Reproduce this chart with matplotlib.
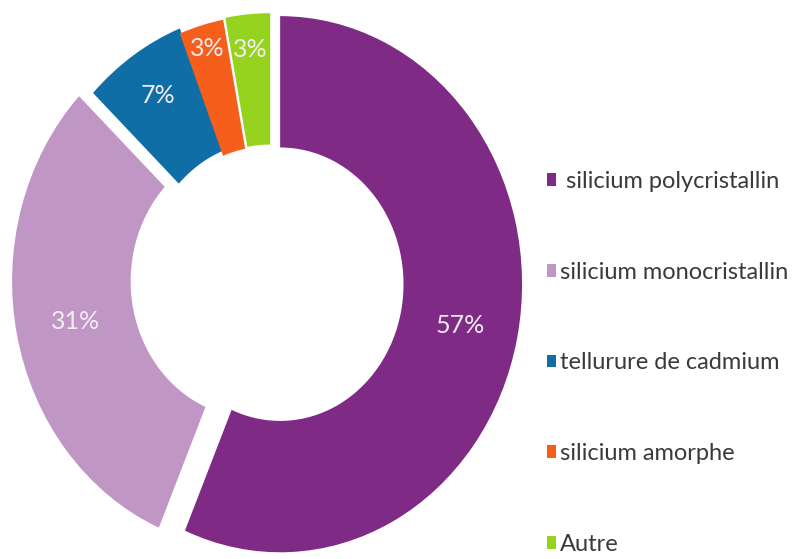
import numpy as np
import matplotlib.pyplot as plt
from matplotlib.patches import Patch

# market share of photovoltaic cell technologies
labels = [' silicium polycristallin', 'silicium monocristallin', 'tellurure de cadmium',
          'silicium amorphe', 'Autre']
shares = [57, 31, 7, 3, 3]
colors = ['#7f2a85', '#c096c5', '#106ea6', '#f65e1c', '#96d31e']

# each ring segment is nudged a little off the common centre (data units)
shift_x = [0.058, -0.050, 0.008, 0.008, 0.017]
shift_y = [-0.004, 0.007, 0.019, 0.0, 0.007]
# radial position of the percentage inside each segment
label_r = [0.76, 0.755, 0.82, 0.91, 0.87]

plt.rcParams['font.family'] = ['Lato', 'DejaVu Sans']

fig = plt.figure(figsize=(7.92, 5.59), dpi=100)
ax = fig.add_axes([0.0, -0.034, 0.672, 1.055])

wedges, _ = ax.pie(shares, colors=colors, startangle=90, counterclock=False,
                   radius=1.0, wedgeprops=dict(width=0.49, linewidth=0))

for w, dx, dy, r, pct in zip(wedges, shift_x, shift_y, label_r, shares):
    w.set_center((dx, dy))
    mid = np.deg2rad((w.theta1 + w.theta2) / 2)
    ax.text(dx + r * np.cos(mid), dy + r * np.sin(mid), f'{pct}%',
            ha='center', va='center', color='#f3ecf3', fontsize=18)

ax.set_aspect('auto')
ax.set_xlim(-1.1, 1.1)
ax.set_ylim(-1.1, 1.1)
ax.axis('off')

handles = [Patch(facecolor=c, edgecolor='none') for c in colors]
fig.legend(handles, labels, loc='upper left', bbox_to_anchor=(547 / 792, 1 - 171 / 559),
           frameon=False, fontsize=17, labelcolor='#3a3a3a',
           handlelength=0.38, handleheight=0.45, handletextpad=0.15,
           labelspacing=2.95, borderpad=0, borderaxespad=0)

fig.savefig('out.png', dpi=100, facecolor='white')
